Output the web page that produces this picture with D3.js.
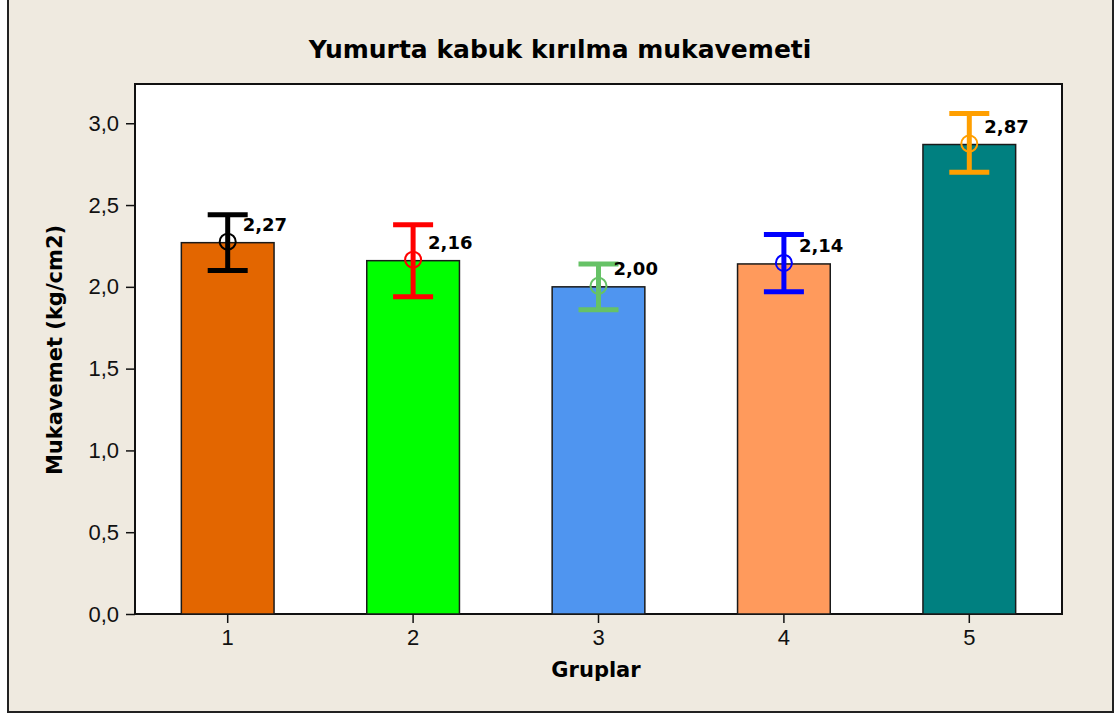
<!DOCTYPE html>
<html lang="tr">
<head>
    <meta charset="UTF-8">
    <title>Yumurta kabuk kırılma mukavemeti</title>
    <script src="https://d3js.org/d3.v7.min.js"></script>
    <style>
        body {
            margin: 0;
            background-color: #ffffff;
            font-family: "DejaVu Sans", Verdana, sans-serif;
        }
        .axis text {
            font-size: 22px;
            fill: #111;
        }
        .axis path, .axis line {
            stroke: #111;
            stroke-width: 1.5;
        }
        .title {
            font-size: 25px;
            font-weight: bold;
        }
        .axis-label {
            font-size: 21px;
            font-weight: bold;
        }
        .value-label {
            font-size: 18px;
            font-weight: bold;
        }
    </style>
</head>
<body>
    <div id="chart"></div>
    <script>
        // Data
        const groups = ["1", "2", "3", "4", "5"];
        const means = [2.27, 2.16, 2.00, 2.14, 2.87];
        const upper = [2.44, 2.38, 2.14, 2.32, 3.06];
        const lower = [2.10, 1.94, 1.86, 1.97, 2.70];
        const labels = ["2,27", "2,16", "2,00", "2,14", "2,87"];
        const barColors = ["#e36600", "#00ff00", "#4f95f0", "#ff9a5c", "#008080"];
        const errColors = ["#000000", "#ff0000", "#66c266", "#0000ff", "#ff9f00"];
        const yTicks = [0, 0.5, 1.0, 1.5, 2.0, 2.5, 3.0];

        const W = 1119, H = 715;
        const margin = { top: 84, right: 57, bottom: 101, left: 135 };
        const width = W - margin.left - margin.right;
        const height = H - margin.top - margin.bottom;

        const svg = d3.select("#chart")
            .append("svg")
            .attr("width", W)
            .attr("height", H);

        // Outer frame
        svg.append("rect")
            .attr("x", 8).attr("y", -2)
            .attr("width", 1105).attr("height", 714)
            .attr("fill", "#efeae0")
            .attr("stroke", "#222")
            .attr("stroke-width", 2);

        const g = svg.append("g")
            .attr("transform", `translate(${margin.left},${margin.top})`);

        const x = d3.scaleBand()
            .domain(groups)
            .range([0, width])
            .paddingInner(0.5)
            .paddingOuter(0.25);

        const y = d3.scaleLinear()
            .domain([0, 3.24])
            .range([height, 0]);

        // Plot background
        g.append("rect")
            .attr("width", width)
            .attr("height", height)
            .attr("fill", "#ffffff")
            .attr("stroke", "#111")
            .attr("stroke-width", 2);

        // Bars
        g.selectAll(".bar")
            .data(groups)
            .enter()
            .append("rect")
            .attr("class", "bar")
            .attr("x", d => x(d))
            .attr("y", (d, i) => y(means[i]))
            .attr("width", x.bandwidth())
            .attr("height", (d, i) => height - y(means[i]))
            .attr("fill", (d, i) => barColors[i])
            .attr("stroke", "#1a1a1a")
            .attr("stroke-width", 1.5);

        // Error bars
        const capW = 40;
        const err = g.selectAll(".err")
            .data(groups)
            .enter()
            .append("g")
            .attr("class", "err")
            .attr("stroke", (d, i) => errColors[i])
            .attr("fill", "none");

        err.append("line")
            .attr("x1", d => x(d) + x.bandwidth() / 2)
            .attr("x2", d => x(d) + x.bandwidth() / 2)
            .attr("y1", (d, i) => y(upper[i]))
            .attr("y2", (d, i) => y(lower[i]))
            .attr("stroke-width", 5);

        err.append("line")
            .attr("x1", d => x(d) + x.bandwidth() / 2 - capW / 2)
            .attr("x2", d => x(d) + x.bandwidth() / 2 + capW / 2)
            .attr("y1", (d, i) => y(upper[i]))
            .attr("y2", (d, i) => y(upper[i]))
            .attr("stroke-width", 5);

        err.append("line")
            .attr("x1", d => x(d) + x.bandwidth() / 2 - capW / 2)
            .attr("x2", d => x(d) + x.bandwidth() / 2 + capW / 2)
            .attr("y1", (d, i) => y(lower[i]))
            .attr("y2", (d, i) => y(lower[i]))
            .attr("stroke-width", 5);

        err.append("circle")
            .attr("cx", d => x(d) + x.bandwidth() / 2)
            .attr("cy", (d, i) => y(means[i]) - 1)
            .attr("r", 8)
            .attr("stroke-width", 2);

        // Value labels
        g.selectAll(".value-label")
            .data(groups)
            .enter()
            .append("text")
            .attr("class", "value-label")
            .attr("x", d => x(d) + x.bandwidth() / 2 + 15)
            .attr("y", (d, i) => y(means[i]) - 12)
            .text((d, i) => labels[i]);

        // Axes
        const fmt = d => d.toFixed(1).replace(".", ",");
        g.append("g")
            .attr("class", "axis")
            .call(d3.axisLeft(y).tickValues(yTicks).tickFormat(fmt).tickSize(9).tickPadding(7))
            .call(a => a.select(".domain").remove());

        g.append("g")
            .attr("class", "axis")
            .attr("transform", `translate(0,${height})`)
            .call(d3.axisBottom(x).tickSize(9).tickPadding(6))
            .call(a => a.select(".domain").remove());

        // Title and axis labels
        svg.append("text")
            .attr("class", "title")
            .attr("x", 560)
            .attr("y", 58)
            .attr("text-anchor", "middle")
            .text("Yumurta kabuk kırılma mukavemeti");

        svg.append("text")
            .attr("class", "axis-label")
            .attr("x", 596)
            .attr("y", 677)
            .attr("text-anchor", "middle")
            .text("Gruplar");

        svg.append("text")
            .attr("class", "axis-label")
            .attr("transform", `translate(62,350) rotate(-90)`)
            .attr("text-anchor", "middle")
            .text("Mukavemet (kg/cm2)");
    </script>
</body>
</html>
